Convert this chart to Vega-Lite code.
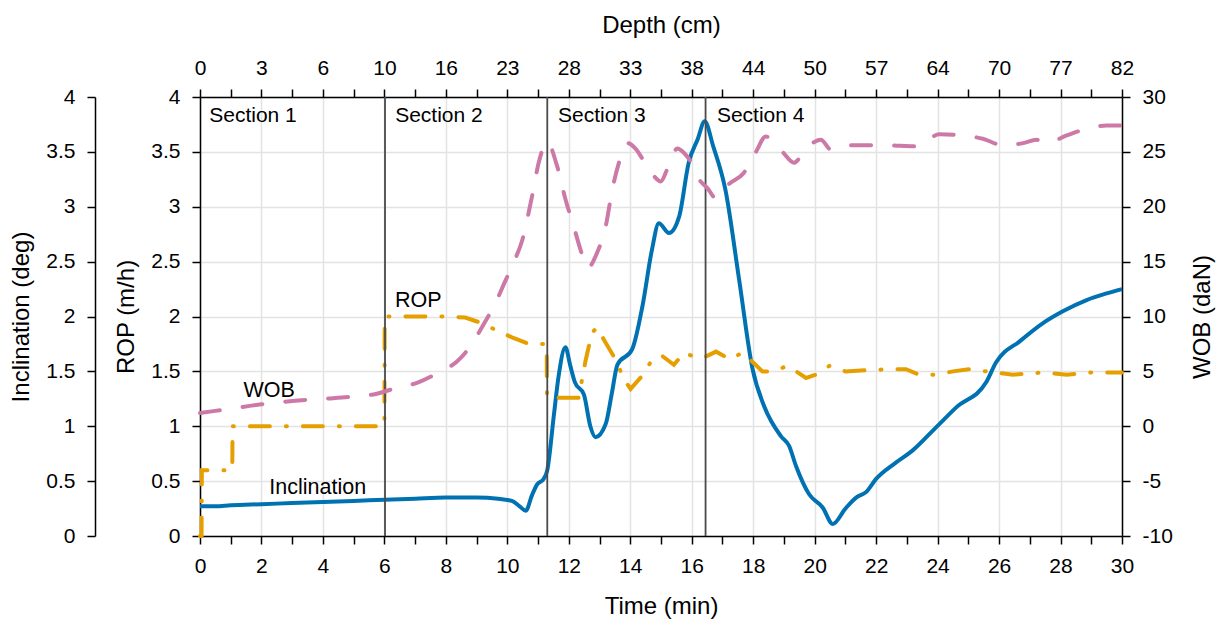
{
  "$schema": "https://vega.github.io/schema/vega-lite/v6.json",
  "width": 922,
  "height": 439,
  "autosize": {"type": "none"},
  "padding": {"left": 200, "top": 97, "right": 106, "bottom": 91},
  "background": "white",
  "config": {
    "font": "Liberation Sans",
    "view": {"stroke": null},
    "axis": {
      "domainColor": "#000000",
      "domainWidth": 1.5,
      "tickColor": "#000000",
      "tickWidth": 1.5,
      "tickSize": 8,
      "labelFontSize": 21,
      "labelColor": "#000000",
      "labelPadding": 11,
      "titleFontSize": 24,
      "titleFontWeight": "normal",
      "titleColor": "#000000",
      "gridColor": "#e3e3e3",
      "gridWidth": 1.5,
      "labelFlush": false,
      "labelOverlap": false
    }
  },
  "datasets": {
    "inc": [
      {"t": 0, "v": 0.27}, {"t": 0.5, "v": 0.27}, {"t": 1, "v": 0.28}, {"t": 2, "v": 0.29},
      {"t": 3, "v": 0.3}, {"t": 4, "v": 0.31}, {"t": 5, "v": 0.32}, {"t": 6, "v": 0.33},
      {"t": 7, "v": 0.34}, {"t": 8, "v": 0.35}, {"t": 9, "v": 0.35}, {"t": 9.7, "v": 0.34},
      {"t": 10.15, "v": 0.32}, {"t": 10.4, "v": 0.27}, {"t": 10.6, "v": 0.23}, {"t": 10.8, "v": 0.37},
      {"t": 10.97, "v": 0.47}, {"t": 11.18, "v": 0.52}, {"t": 11.3, "v": 0.6}, {"t": 11.51, "v": 1.09},
      {"t": 11.67, "v": 1.46}, {"t": 11.89, "v": 1.72}, {"t": 12.05, "v": 1.55}, {"t": 12.2, "v": 1.4},
      {"t": 12.49, "v": 1.29}, {"t": 12.7, "v": 1.0}, {"t": 12.87, "v": 0.9}, {"t": 13.2, "v": 1.02},
      {"t": 13.4, "v": 1.3}, {"t": 13.58, "v": 1.56}, {"t": 14.06, "v": 1.7}, {"t": 14.4, "v": 2.1},
      {"t": 14.7, "v": 2.6}, {"t": 14.93, "v": 2.85}, {"t": 15.26, "v": 2.76}, {"t": 15.59, "v": 2.91},
      {"t": 15.9, "v": 3.4}, {"t": 16.2, "v": 3.62}, {"t": 16.42, "v": 3.78}, {"t": 16.7, "v": 3.55},
      {"t": 17.1, "v": 3.15}, {"t": 17.54, "v": 2.34}, {"t": 17.98, "v": 1.52}, {"t": 18.36, "v": 1.18},
      {"t": 18.9, "v": 0.91}, {"t": 19.17, "v": 0.82}, {"t": 19.39, "v": 0.64}, {"t": 19.82, "v": 0.38},
      {"t": 20.26, "v": 0.26}, {"t": 20.59, "v": 0.11}, {"t": 21.0, "v": 0.25}, {"t": 21.35, "v": 0.35},
      {"t": 21.67, "v": 0.4}, {"t": 22.0, "v": 0.52}, {"t": 22.6, "v": 0.66}, {"t": 23.19, "v": 0.78},
      {"t": 23.95, "v": 0.99}, {"t": 24.6, "v": 1.17}, {"t": 25.58, "v": 1.4}, {"t": 25.9, "v": 1.58},
      {"t": 26.7, "v": 1.78}, {"t": 27.43, "v": 1.94}, {"t": 28.09, "v": 2.05}, {"t": 28.85, "v": 2.15},
      {"t": 29.5, "v": 2.21}, {"t": 30, "v": 2.25}
    ],
    "rop": [
      {"t": 0, "v": 0}, {"t": 0.05, "v": 0}, {"t": 0.06, "v": 0.6}, {"t": 1.05, "v": 0.6},
      {"t": 1.06, "v": 1.0}, {"t": 6.0, "v": 1.0}, {"t": 6.01, "v": 2.0}, {"t": 8.0, "v": 2.0},
      {"t": 8.63, "v": 1.99}, {"t": 9.17, "v": 1.94}, {"t": 9.6, "v": 1.88}, {"t": 10.15, "v": 1.81},
      {"t": 10.7, "v": 1.75}, {"t": 11.28, "v": 1.75}, {"t": 11.29, "v": 1.26}, {"t": 12.32, "v": 1.26},
      {"t": 12.54, "v": 1.59}, {"t": 12.75, "v": 1.85}, {"t": 12.92, "v": 1.9}, {"t": 13.2, "v": 1.76},
      {"t": 13.52, "v": 1.61}, {"t": 13.79, "v": 1.43}, {"t": 14.01, "v": 1.34}, {"t": 14.39, "v": 1.46},
      {"t": 14.72, "v": 1.61}, {"t": 15.04, "v": 1.64}, {"t": 15.42, "v": 1.56}, {"t": 15.75, "v": 1.67},
      {"t": 16.02, "v": 1.64}, {"t": 16.35, "v": 1.62}, {"t": 16.79, "v": 1.68}, {"t": 17.25, "v": 1.61},
      {"t": 17.65, "v": 1.67}, {"t": 18.0, "v": 1.58}, {"t": 18.3, "v": 1.5}, {"t": 18.63, "v": 1.5},
      {"t": 19.12, "v": 1.55}, {"t": 19.72, "v": 1.44}, {"t": 20.04, "v": 1.47}, {"t": 20.48, "v": 1.55},
      {"t": 21.0, "v": 1.5}, {"t": 21.67, "v": 1.51}, {"t": 22.5, "v": 1.52}, {"t": 22.97, "v": 1.52},
      {"t": 23.4, "v": 1.47}, {"t": 23.95, "v": 1.47}, {"t": 24.5, "v": 1.5}, {"t": 25.04, "v": 1.52},
      {"t": 25.58, "v": 1.5}, {"t": 26.45, "v": 1.47}, {"t": 27.43, "v": 1.49}, {"t": 28.2, "v": 1.47},
      {"t": 29, "v": 1.49}, {"t": 30, "v": 1.49}
    ],
    "wob": [
      {"t": 0, "v": 1.2}, {"t": 1, "v": 1.6}, {"t": 2, "v": 2.0}, {"t": 3, "v": 2.3},
      {"t": 4, "v": 2.5}, {"t": 5, "v": 2.7}, {"t": 5.64, "v": 2.9}, {"t": 6.29, "v": 3.4},
      {"t": 7.1, "v": 4.0}, {"t": 7.76, "v": 4.9}, {"t": 8.36, "v": 5.9}, {"t": 8.85, "v": 7.5},
      {"t": 9.23, "v": 9.3}, {"t": 9.61, "v": 11.2}, {"t": 9.88, "v": 12.9}, {"t": 10.2, "v": 14.9},
      {"t": 10.48, "v": 16.9}, {"t": 10.8, "v": 20.9}, {"t": 11.02, "v": 24.0}, {"t": 11.29, "v": 25.9},
      {"t": 11.62, "v": 23.7}, {"t": 11.9, "v": 20.6}, {"t": 12.16, "v": 18.2}, {"t": 12.38, "v": 16.1},
      {"t": 12.6, "v": 14.4}, {"t": 12.92, "v": 15.8}, {"t": 13.2, "v": 18.2}, {"t": 13.41, "v": 21.5},
      {"t": 13.63, "v": 24.0}, {"t": 13.9, "v": 25.8}, {"t": 14.17, "v": 25.3}, {"t": 14.39, "v": 24.4},
      {"t": 14.77, "v": 22.8}, {"t": 14.99, "v": 22.3}, {"t": 15.2, "v": 23.4}, {"t": 15.53, "v": 25.3},
      {"t": 15.75, "v": 24.9}, {"t": 15.97, "v": 24.1}, {"t": 16.24, "v": 22.5}, {"t": 16.51, "v": 21.7},
      {"t": 16.78, "v": 20.8}, {"t": 17.22, "v": 22.1}, {"t": 17.7, "v": 23.1}, {"t": 18.09, "v": 25.0},
      {"t": 18.41, "v": 26.4}, {"t": 18.95, "v": 25.0}, {"t": 19.33, "v": 24.0}, {"t": 19.5, "v": 24.4},
      {"t": 19.99, "v": 25.9}, {"t": 20.2, "v": 26.1}, {"t": 20.53, "v": 25.2}, {"t": 21.24, "v": 25.6},
      {"t": 22.3, "v": 25.6}, {"t": 23.3, "v": 25.5}, {"t": 24.06, "v": 26.6}, {"t": 24.82, "v": 26.5},
      {"t": 25.47, "v": 26.2}, {"t": 26.13, "v": 25.6}, {"t": 26.78, "v": 25.8}, {"t": 27.22, "v": 26.1},
      {"t": 27.54, "v": 25.8}, {"t": 28.2, "v": 26.5}, {"t": 28.85, "v": 27.1}, {"t": 29.5, "v": 27.4},
      {"t": 30, "v": 27.4}
    ],
    "sections": [{"t": 6.02}, {"t": 11.3}, {"t": 16.45}],
    "sectionLabels": [
      {"t": 0.3, "v": 3.83, "label": "Section 1"},
      {"t": 6.35, "v": 3.83, "label": "Section 2"},
      {"t": 11.65, "v": 3.83, "label": "Section 3"},
      {"t": 16.82, "v": 3.83, "label": "Section 4"}
    ],
    "annotations": [
      {"t": 7.1, "v": 2.14, "label": "ROP"},
      {"t": 2.25, "v": 1.32, "label": "WOB"},
      {"t": 3.83, "v": 0.44, "label": "Inclination"}
    ]
  },
  "resolve": {"scale": {"x": "independent", "y": "independent"}},
  "layer": [
    {
      "data": {"name": "inc"},
      "mark": {"type": "line", "color": "#0072B2", "strokeWidth": 4, "interpolate": "monotone"},
      "encoding": {
        "x": {
          "field": "t", "type": "quantitative",
          "scale": {"domain": [0, 30], "nice": false, "zero": false},
          "axis": {
            "orient": "bottom",
            "values": [0,1,2,3,4,5,6,7,8,9,10,11,12,13,14,15,16,17,18,19,20,21,22,23,24,25,26,27,28,29,30],
            "labelExpr": "datum.value % 2 == 0 ? datum.label : ''",
            "grid": false,
            "title": "Time (min)",
            "titlePadding": 18
          }
        },
        "y": {
          "field": "v", "type": "quantitative",
          "scale": {"domain": [0, 4], "nice": false, "zero": false},
          "axis": {
            "orient": "left",
            "offset": 105,
            "values": [0, 0.5, 1, 1.5, 2, 2.5, 3, 3.5, 4],
            "format": "~g",
            "labelPadding": 12,
            "grid": false,
            "title": "Inclination (deg)",
            "titlePadding": 12
          }
        }
      }
    },
    {
      "layer": [
        {
          "data": {"name": "rop"},
          "mark": {"type": "line", "color": "#E69F00", "strokeWidth": 4, "strokeDash": [20, 16, 1, 16], "strokeCap": "round", "interpolate": "linear"},
          "encoding": {
            "x": {
              "field": "t", "type": "quantitative",
              "scale": {"domain": [0, 30], "nice": false, "zero": false},
              "axis": {
                "orient": "bottom",
                "values": [0, 2, 4, 6, 8, 10, 12, 14, 16, 18, 20, 22, 24, 26, 28, 30],
                "grid": true,
                "labels": false,
                "ticks": false,
                "domain": false,
                "title": null
              }
            },
            "y": {
              "field": "v", "type": "quantitative",
              "scale": {"domain": [0, 4], "nice": false, "zero": false},
              "axis": {
                "orient": "left",
                "values": [0, 0.5, 1, 1.5, 2, 2.5, 3, 3.5, 4],
                "format": "~g",
                "labelPadding": 12,
                "grid": true,
                "title": "ROP (m/h)",
                "titlePadding": 12
              }
            }
          }
        },
        {
          "data": {"name": "sections"},
          "mark": {"type": "rule", "color": "#4a4a4a", "strokeWidth": 1.8},
          "encoding": {
            "x": {"field": "t", "type": "quantitative"}
          }
        },
        {
          "data": {"name": "sectionLabels"},
          "mark": {"type": "text", "align": "left", "baseline": "middle", "fontSize": 21, "color": "#000000"},
          "encoding": {
            "x": {"field": "t", "type": "quantitative"},
            "y": {"field": "v", "type": "quantitative"},
            "text": {"field": "label"}
          }
        },
        {
          "data": {"name": "annotations"},
          "mark": {"type": "text", "align": "center", "baseline": "middle", "fontSize": 21.5, "color": "#000000"},
          "encoding": {
            "x": {"field": "t", "type": "quantitative"},
            "y": {"field": "v", "type": "quantitative"},
            "text": {"field": "label"}
          }
        }
      ]
    },
    {
      "data": {"name": "wob"},
      "mark": {"type": "line", "color": "#CC79A7", "strokeWidth": 4, "strokeDash": [20, 23], "strokeCap": "round", "interpolate": "monotone"},
      "encoding": {
        "x": {
          "field": "t", "type": "quantitative",
          "scale": {"domain": [0, 30], "nice": false, "zero": false},
          "axis": {
            "orient": "top",
            "values": [0,1,2,3,4,5,6,7,8,9,10,11,12,13,14,15,16,17,18,19,20,21,22,23,24,25,26,27,28,29,30],
            "labelExpr": "datum.value % 2 == 0 ? ['0','3','6','10','16','23','28','33','38','44','50','57','64','70','77','82'][datum.value / 2] : ''",
            "grid": false,
            "title": "Depth (cm)",
            "titlePadding": 20
          }
        },
        "y": {
          "field": "v", "type": "quantitative",
          "scale": {"domain": [-10, 30], "nice": false, "zero": false},
          "axis": {
            "orient": "right",
            "values": [-10, -5, 0, 5, 10, 15, 20, 25, 30],
            "labelExpr": "'' + datum.value",
            "labelPadding": 12,
            "grid": false,
            "title": "WOB (daN)",
            "titleAngle": 270,
            "titlePadding": 42
          }
        }
      }
    }
  ]
}
